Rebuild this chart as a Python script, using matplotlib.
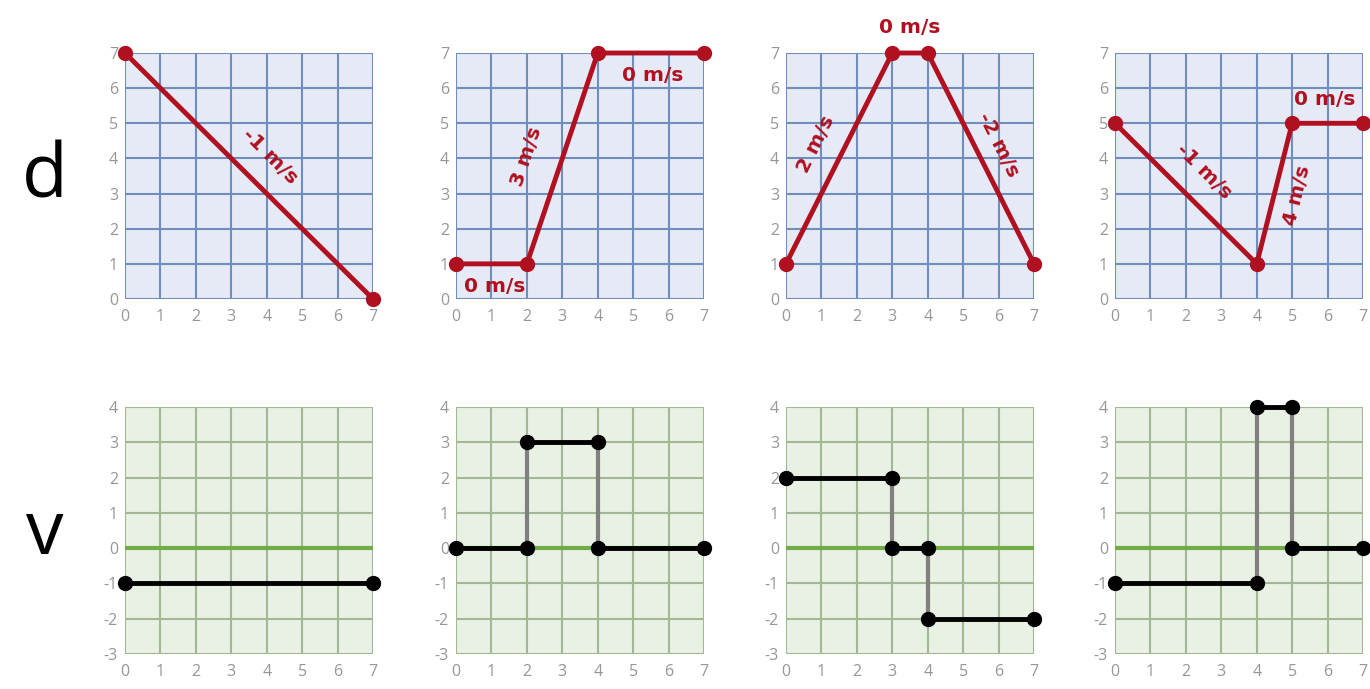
import numpy as np
import matplotlib
matplotlib.use("Agg")
import matplotlib.pyplot as plt

plt.rcParams['font.family'] = ['Open Sans', 'DejaVu Sans']
plt.rcParams['axes.unicode_minus'] = False

# ---- data: position (d) vs time ----
d_t = [[0, 7], [0, 2, 4, 7], [0, 3, 4, 7], [0, 4, 5, 7]]
d_y = [[7, 0], [1, 1, 7, 7], [1, 7, 7, 1], [5, 1, 5, 5]]

# slope labels: (text, x, y, angle)
d_labels = [
    [("-1 m/s", 4.1, 4.05, -45)],
    [("0 m/s", 1.1, 0.36, 0), ("3 m/s", 2.0, 4.05, 71.5), ("0 m/s", 5.55, 6.35, 0)],
    [("0 m/s", 3.5, 7.72, 0), ("2 m/s", 0.85, 4.4, 63.4), ("-2 m/s", 5.98, 4.4, -63.4)],
    [("-1 m/s", 2.5, 3.62, -45), ("4 m/s", 5.15, 2.95, 76), ("0 m/s", 5.93, 5.67, 0)],
]

# ---- data: velocity (v) vs time, piecewise constant ----
v_t = [[0, 7], [0, 2, 4, 7], [0, 3, 4, 7], [0, 4, 5, 7]]
v_val = [[-1], [0, 3, 0], [2, 0, -2], [-1, 4, 0]]

RED = '#b01020'
lefts = [125, 456, 786, 1115]
W, H = 1370, 689

fig = plt.figure(figsize=(13.7, 6.89), dpi=100)


def style(ax, ymin, ymax, face, gridc):
    ax.set_xlim(0, 7)
    ax.set_ylim(ymin, ymax)
    ax.set_facecolor(face)
    ax.set_xticks(range(0, 8))
    ax.set_yticks(range(ymin, ymax + 1))
    ax.grid(True, color=gridc, lw=1.5)
    ax.set_axisbelow(True)
    for s in ax.spines.values():
        s.set_visible(False)
    ax.tick_params(length=0, labelsize=11.5, labelcolor='#969696')
    ax.tick_params(axis='x', pad=7)
    ax.tick_params(axis='y', pad=5)


for i in range(4):
    # top row: distance
    ax = fig.add_axes([lefts[i] / W, 1 - 299 / H, 248 / W, 246 / H])
    style(ax, 0, 7, '#e6eaf6', '#6f8ebd')
    ax.plot(d_t[i], d_y[i], color=RED, lw=3.5, marker='o', ms=10, clip_on=False, zorder=3)
    for txt, x, y, ang in d_labels[i]:
        ax.text(x, y, txt, color=RED, fontsize=14.5, fontweight='bold', rotation=ang,
                family='DejaVu Sans', ha='center', va='center', rotation_mode='anchor',
                zorder=4, clip_on=False)

    # bottom row: velocity
    ax = fig.add_axes([lefts[i] / W, 1 - 654 / H, 248 / W, 247 / H])
    style(ax, -3, 4, '#e9f0e4', '#a2b893')
    ax.axhline(0, color='#70ad47', lw=3, zorder=2)
    t = v_t[i]
    v = v_val[i]
    for k in range(1, len(v)):
        ax.plot([t[k], t[k]], [v[k - 1], v[k]], color='#808080', lw=3, zorder=3)
    for k in range(len(v)):
        ax.plot([t[k], t[k + 1]], [v[k], v[k]], color='black', lw=3.5, marker='o', ms=10,
                clip_on=False, zorder=4)

fig.text(45 / W, 1 - 178 / H, 'd', fontsize=54, ha='center', va='center')
fig.text(45 / W, 1 - 535 / H, 'v', fontsize=54, ha='center', va='center')

fig.savefig('out.png', dpi=100)
